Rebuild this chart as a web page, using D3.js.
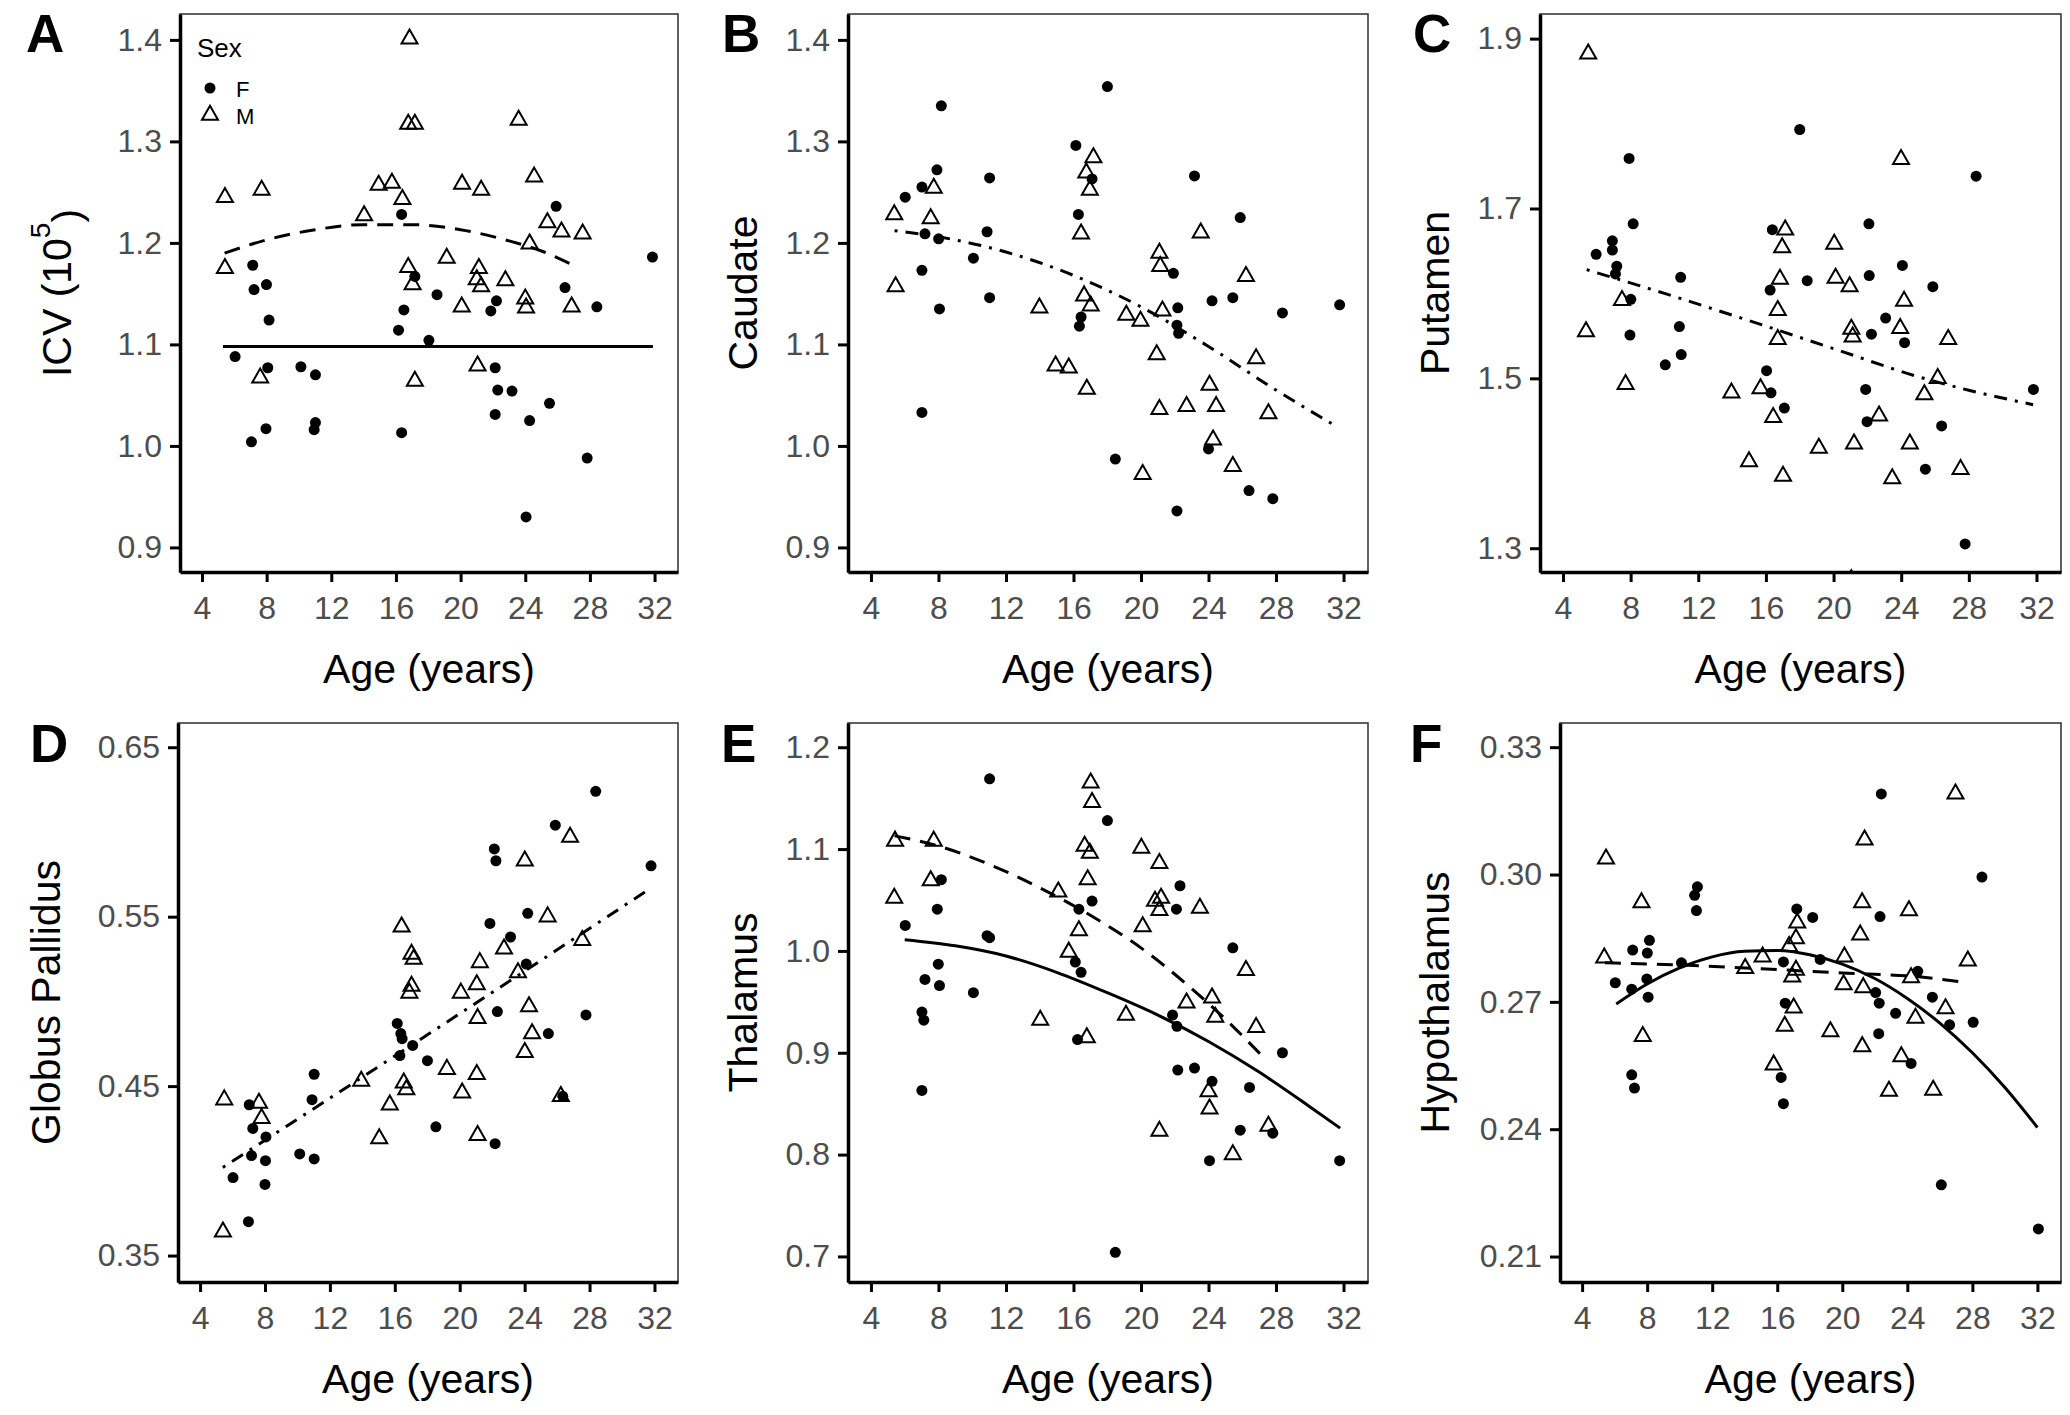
<!doctype html>
<html>
<head>
<meta charset="utf-8">
<script src="https://cdn.jsdelivr.net/npm/d3@7/dist/d3.min.js"></script>
<style>
  body { margin: 0; background: #fff; }
  text { font-family: "Liberation Sans", Arial, sans-serif; }
</style>
</head>
<body>
<div id="chart"></div>
<script>
// x axis shared by all six panels
var ageTicks = [4, 8, 12, 16, 20, 24, 28, 32];

// A: ICV (10^5)
var icvF = [[6.05,1.088],[7.06,1.004],[7.14,1.178],[7.22,1.154],[7.99,1.159],[8.15,1.124],[8.07,1.077],[7.96,1.017],
  [10.12,1.078],[11.02,1.070],[11.02,1.023],[10.94,1.016],[16.35,1.228],[16.49,1.134],[16.16,1.114],[16.35,1.013],
  [17.17,1.167],[18.54,1.149],[18.04,1.104],[21.87,1.133],[22.22,1.143],[22.14,1.077],[22.3,1.055],[23.18,1.054],
  [22.14,1.031],[24.27,1.025],[24.05,0.930],[25.5,1.042],[25.91,1.236],[26.46,1.156],[28.43,1.137],[27.83,0.988],[31.87,1.186]];
var icvM = [[5.42,1.245],[5.42,1.175],[7.69,1.252],[7.6,1.067],[14.03,1.227],[14.93,1.257],[15.75,1.259],[16.4,1.243],
  [16.84,1.401],[16.76,1.317],[17.17,1.317],[16.76,1.176],[17.03,1.159],[17.17,1.064],[19.14,1.185],[20.09,1.258],
  [20.07,1.137],[21.27,1.252],[21.13,1.175],[21.0,1.164],[21.27,1.157],[21.05,1.079],[22.77,1.163],[23.59,1.321],
  [24.55,1.265],[24.27,1.199],[24.0,1.145],[24.05,1.136],[25.37,1.220],[26.24,1.211],[26.87,1.137],[27.55,1.209]];
var icvFitF = [[5.3,1.098],[31.9,1.098]];
var icvFitM = [[5.4,1.190],[8,1.203],[11,1.213],[14,1.218],[17,1.218],[20,1.213],[23,1.202],[25,1.192],[27.1,1.177]];

// B: Caudate
var caudateF = [[6.03,1.245],[7.02,1.255],[7.2,1.209],[7.02,1.173],[7.02,1.033],[7.91,1.272],[8.17,1.335],[8.01,1.204],
  [8.06,1.135],[10.07,1.185],[10.88,1.211],[11.03,1.264],[11.03,1.146],[16.14,1.296],[16.29,1.228],[16.45,1.127],
  [16.35,1.118],[17.1,1.263],[18.01,1.354],[18.48,0.987],[21.92,1.170],[22.18,1.136],[22.13,1.119],[22.23,1.111],
  [22.13,0.936],[23.17,1.266],[24.21,1.143],[24.0,0.997],[25.44,1.146],[25.88,1.225],[26.4,0.956],[27.81,0.948],
  [28.38,1.131],[31.77,1.139]];
var caudateM = [[5.38,1.228],[5.46,1.157],[7.72,1.254],[7.54,1.224],[13.98,1.136],[14.94,1.079],[15.72,1.077],[16.45,1.209],
  [16.63,1.148],[16.76,1.269],[17.18,1.284],[16.97,1.252],[17.02,1.138],[16.79,1.056],[19.13,1.129],[19.97,1.123],
  [20.1,0.972],[21.09,1.190],[21.14,1.177],[21.27,1.133],[20.93,1.090],[21.09,1.036],[22.7,1.039],[23.54,1.210],
  [24.06,1.060],[24.45,1.039],[24.27,1.006],[25.44,0.980],[26.22,1.167],[26.82,1.086],[27.55,1.032]];
var caudateFit = [[5.4,1.212],[8,1.206],[12,1.191],[16,1.168],[20,1.137],[24,1.098],[28,1.055],[31.5,1.020]];

// C: Putamen
var putamenF = [[5.96,1.646],[6.92,1.662],[6.92,1.651],[7.18,1.632],[7.1,1.623],[7.91,1.759],[8.15,1.682],[8.01,1.593],
  [7.96,1.551],[10.05,1.516],[10.96,1.619],[10.88,1.561],[10.99,1.528],[16.38,1.675],[16.25,1.604],[16.04,1.509],
  [16.3,1.483],[17.09,1.465],[18.0,1.793],[18.44,1.615],[22.09,1.682],[22.11,1.621],[22.24,1.552],[21.9,1.487],
  [21.98,1.449],[23.08,1.571],[24.07,1.633],[24.2,1.542],[25.87,1.608],[25.43,1.393],[26.39,1.444],[28.43,1.738],
  [27.78,1.305],[31.82,1.487]];
var putamenM = [[5.49,1.882],[5.36,1.555],[7.49,1.592],[7.7,1.493],[13.96,1.483],[15.0,1.402],[15.68,1.488],[16.43,1.454],
  [17.14,1.675],[16.96,1.654],[16.83,1.617],[16.7,1.580],[16.7,1.546],[17.01,1.385],[19.13,1.418],[20.04,1.658],
  [20.12,1.618],[20.95,1.608],[21.05,1.558],[21.13,1.549],[21.21,1.423],[21.05,1.263],[22.69,1.456],[23.47,1.382],
  [23.99,1.758],[24.17,1.591],[23.94,1.559],[24.51,1.423],[25.37,1.481],[26.16,1.500],[26.78,1.546],[27.51,1.393]];
var putamenFit = [[5.4,1.628],[10,1.600],[15,1.568],[20,1.535],[25,1.502],[28,1.486],[31.8,1.469]];

// D: Globus Pallidus
var pallidusF = [[6.03,0.396],[6.98,0.370],[7.03,0.439],[7.25,0.425],[7.17,0.409],[8.06,0.420],[8.03,0.406],[8.0,0.392],
  [10.14,0.410],[11.03,0.457],[10.9,0.442],[11.03,0.407],[16.15,0.487],[16.37,0.481],[16.45,0.478],[16.31,0.468],
  [17.1,0.474],[18.01,0.465],[18.53,0.426],[22.13,0.590],[22.23,0.583],[21.86,0.546],[23.13,0.538],[22.32,0.494],
  [22.18,0.416],[24.19,0.552],[24.1,0.522],[25.46,0.481],[25.89,0.604],[26.35,0.444],[27.78,0.492],[28.38,0.624],[31.79,0.580]];
var pallidusM = [[5.49,0.442],[5.41,0.364],[7.63,0.440],[7.79,0.431],[13.93,0.453],[15.04,0.419],[15.69,0.439],[16.42,0.544],
  [16.55,0.452],[16.71,0.448],[17.03,0.528],[17.16,0.525],[17.03,0.509],[16.9,0.505],[19.21,0.460],[20.07,0.505],
  [20.15,0.446],[21.05,0.457],[21.24,0.523],[21.05,0.510],[21.1,0.490],[21.1,0.421],[22.73,0.531],[23.59,0.517],
  [24.01,0.583],[24.27,0.497],[24.46,0.481],[24.01,0.470],[25.42,0.550],[26.23,0.444],[26.8,0.597],[27.55,0.536]];
var pallidusFit = [[5.4,0.402],[16.2,0.469],[31.8,0.567]];

// E: Thalamus
var thalamusF = [[6.03,1.025],[7.02,0.863],[7.02,0.940],[7.13,0.932],[7.2,0.972],[8.17,1.070],[7.93,1.041],[7.99,0.987],
  [8.06,0.966],[10.07,0.959],[11.03,1.169],[10.88,1.015],[11.03,1.013],[16.32,1.041],[16.11,0.989],[16.45,0.979],
  [16.24,0.913],[17.1,1.049],[18.01,1.128],[18.48,0.704],[22.31,1.064],[22.1,1.041],[21.87,0.937],[22.13,0.926],
  [22.18,0.883],[23.17,0.885],[24.21,0.872],[24.06,0.794],[25.44,1.003],[26.43,0.866],[25.88,0.824],[27.81,0.821],
  [28.38,0.900],[31.77,0.794]];
var thalamusM = [[5.43,1.108],[5.38,1.052],[7.72,1.108],[7.54,1.069],[14.03,0.932],[15.1,1.058],[15.72,0.999],[16.32,1.020],
  [16.66,1.103],[17.02,1.165],[17.1,1.146],[16.97,1.096],[16.84,1.070],[16.79,0.915],[19.11,0.937],[20.02,1.101],
  [20.1,1.024],[21.09,1.086],[20.83,1.049],[21.19,1.052],[21.09,1.040],[21.09,0.823],[22.7,0.949],[23.49,1.042],
  [24.21,0.954],[24.4,0.935],[24.0,0.862],[24.06,0.845],[25.44,0.800],[26.22,0.981],[26.82,0.925],[27.55,0.828]];
var thalamusFitF = [[6,1.011],[9,1.005],[12,0.995],[15,0.979],[18,0.959],[21,0.937],[24,0.911],[27,0.881],[30,0.847],[31.8,0.826]];
var thalamusFitM = [[5.4,1.113],[8,1.103],[11,1.085],[14,1.062],[17,1.035],[20,1.003],[23,0.963],[25.5,0.925],[27.4,0.893]];

// F: Hypothalamus
var hypoF = [[6.04,0.2745],[7.11,0.2822],[7.05,0.2730],[7.05,0.2528],[7.22,0.2497],[8.01,0.2815],[8.14,0.2845],[7.98,0.2754],
  [8.06,0.2711],[10.11,0.2792],[10.92,0.2951],[11.09,0.2971],[11.03,0.2915],[16.38,0.2794],[16.49,0.2697],[16.24,0.2522],
  [16.38,0.2460],[17.2,0.2919],[18.18,0.2899],[18.64,0.2800],[22.4,0.3190],[22.32,0.2901],[22.05,0.2722],[22.27,0.2697],
  [22.24,0.2625],[23.28,0.2673],[24.23,0.2555],[24.64,0.2772],[25.54,0.2711],[26.09,0.2269],[26.6,0.2646],[28.05,0.2652],
  [28.59,0.2994],[32.06,0.2165]];
var hypoM = [[5.47,0.3037],[5.36,0.2804],[7.65,0.2934],[7.73,0.2619],[14.03,0.2779],[15.1,0.2806],[15.78,0.2552],[16.46,0.2643],
  [16.73,0.2831],[16.92,0.2759],[17.01,0.2686],[17.15,0.2775],[17.15,0.2849],[17.23,0.2886],[19.27,0.2630],[20.13,0.2806],
  [20.08,0.2741],[21.22,0.2934],[21.1,0.2858],[21.37,0.3082],[21.29,0.2734],[21.23,0.2595],[22.87,0.2490],[23.63,0.2571],
  [24.1,0.2915],[24.23,0.2757],[24.5,0.2662],[25.59,0.2492],[26.35,0.2684],[26.96,0.3190],[27.72,0.2797]];
var hypoFitF = [[6.1,0.2695],[8,0.2742],[10,0.2780],[12,0.2806],[14,0.2819],[16,0.2821],[18,0.2811],[20,0.2789],[22,0.2755],
  [24,0.2708],[26,0.2650],[28,0.2580],[30,0.2498],[32,0.2404]];
var hypoFitM = [[5.4,0.2792],[10,0.2787],[15,0.2778],[20,0.2768],[25,0.2758],[27.5,0.2746]];

// layout of the six panels
var DASH = "16,10", DOTDASH = "3,8,13,8";
var panels = [
  {tag:"A", box:[180,678,14,572], lx:26, ly:52, tx:57, title:"ICV", sup:"5",
   yDom:[0.8758,1.4255], yTicks:[0.9,1.0,1.1,1.2,1.3,1.4], fmt:".1f", F:icvF, M:icvM,
   fits:[[icvFitF,null],[icvFitM,DASH]], legend:true},
  {tag:"B", box:[848,1368,14,572], lx:722, ly:52, tx:743, title:"Caudate",
   yDom:[0.8758,1.4255], yTicks:[0.9,1.0,1.1,1.2,1.3,1.4], fmt:".1f", F:caudateF, M:caudateM,
   fits:[[caudateFit,DOTDASH]]},
  {tag:"C", box:[1540,2061,14,572], lx:1413, ly:52, tx:1435, title:"Putamen",
   yDom:[1.272,1.929], yTicks:[1.3,1.5,1.7,1.9], fmt:".1f", F:putamenF, M:putamenM,
   fits:[[putamenFit,DOTDASH]]},
  {tag:"D", box:[178,678,723,1282], lx:30, ly:762, tx:46, title:"Globus Pallidus",
   yDom:[0.3344,0.6643], yTicks:[0.35,0.45,0.55,0.65], fmt:".2f", F:pallidusF, M:pallidusM,
   fits:[[pallidusFit,DOTDASH]]},
  {tag:"E", box:[848,1368,723,1282], lx:721, ly:762, tx:743, title:"Thalamus",
   yDom:[0.6749,1.2238], yTicks:[0.7,0.8,0.9,1.0,1.1,1.2], fmt:".1f", F:thalamusF, M:thalamusM,
   fits:[[thalamusFitF,null],[thalamusFitM,DASH]]},
  {tag:"F", box:[1560,2061,723,1282], lx:1410, ly:762, tx:1435, title:"Hypothalamus",
   yDom:[0.2040,0.3357], yTicks:[0.21,0.24,0.27,0.30,0.33], fmt:".2f", F:hypoF, M:hypoM,
   fits:[[hypoFitF,null],[hypoFitM,DASH]]}
];

var svg = d3.select("#chart").append("svg")
  .attr("width", 2070).attr("height", 1415);

var tri = "M0,-9.3L8,4.7L-8,4.7Z";

panels.forEach(function(p, i) {
  var x = d3.scaleLinear().domain([2.64, 33.45]).range([p.box[0], p.box[1]]);
  var y = d3.scaleLinear().domain(p.yDom).range([p.box[3], p.box[2]]);
  var g = svg.append("g");

  // panel letter
  g.append("text").attr("x", p.lx).attr("y", p.ly)
    .style("font-size", "53px").style("font-weight", "bold").text(p.tag);

  // clip so points sitting below the limits only peek in
  svg.append("clipPath").attr("id", "clip" + i).append("rect")
    .attr("x", p.box[0]).attr("y", p.box[2])
    .attr("width", p.box[1] - p.box[0]).attr("height", p.box[3] - p.box[2]);

  // thin border for top and right
  g.append("rect").attr("x", p.box[0]).attr("y", p.box[2])
    .attr("width", p.box[1] - p.box[0]).attr("height", p.box[3] - p.box[2])
    .attr("fill", "none").attr("stroke", "#3a3a3a").attr("stroke-width", 1.6);

  var plot = g.append("g").attr("clip-path", "url(#clip" + i + ")");

  // fitted lines
  var line = d3.line().x(function(d) { return x(d[0]); }).y(function(d) { return y(d[1]); })
    .curve(d3.curveMonotoneX);
  p.fits.forEach(function(f) {
    plot.append("path").datum(f[0]).attr("d", line)
      .attr("fill", "none").attr("stroke", "#000").attr("stroke-width", 3)
      .attr("stroke-dasharray", f[1]);
  });

  // points
  plot.selectAll(".f").data(p.F).enter().append("circle")
    .attr("cx", function(d) { return x(d[0]); }).attr("cy", function(d) { return y(d[1]); })
    .attr("r", 5.5).attr("fill", "#000");
  plot.selectAll(".m").data(p.M).enter().append("path")
    .attr("d", tri)
    .attr("transform", function(d) { return "translate(" + x(d[0]) + "," + y(d[1]) + ")"; })
    .attr("fill", "none").attr("stroke", "#000").attr("stroke-width", 2);

  // axes
  var xAxis = g.append("g").attr("transform", "translate(0," + p.box[3] + ")")
    .call(d3.axisBottom(x).tickValues(ageTicks).tickSize(10).tickPadding(8).tickSizeOuter(0));
  var yAxis = g.append("g").attr("transform", "translate(" + p.box[0] + ",0)")
    .call(d3.axisLeft(y).tickValues(p.yTicks).tickFormat(d3.format(p.fmt)).tickSize(10).tickPadding(8).tickSizeOuter(0));
  [xAxis, yAxis].forEach(function(a) {
    a.select(".domain").attr("stroke", "#000").attr("stroke-width", 3.5);
    a.selectAll(".tick line").attr("stroke", "#000").attr("stroke-width", 3);
    a.selectAll(".tick text").attr("fill", "#4d4d4d").style("font-size", "32px")
      .style("font-family", "'Liberation Sans', Arial, sans-serif");
  });
  xAxis.selectAll(".tick text").attr("dy", "0.9em");

  // axis titles
  g.append("text").attr("x", (p.box[0] + p.box[1]) / 2).attr("y", p.box[3] + 111)
    .attr("text-anchor", "middle").style("font-size", "41px").text("Age (years)");
  var yt = g.append("text").attr("text-anchor", "middle").attr("dy", "0.35em")
    .attr("transform", "translate(" + p.tx + "," + (p.box[2] + p.box[3]) / 2 + ") rotate(-90)")
    .style("font-size", "41px");
  if (p.sup) {
    yt.append("tspan").text(p.title + " (10");
    yt.append("tspan").attr("dy", "-0.75em").style("font-size", "28px").text(p.sup);
    yt.append("tspan").attr("dy", "0.75em").text(")");
  } else {
    yt.text(p.title);
  }

  // legend
  if (p.legend) {
    var lg = g.append("g");
    lg.append("text").attr("x", 197).attr("y", 57).style("font-size", "26px").text("Sex");
    lg.append("circle").attr("cx", 210).attr("cy", 88).attr("r", 5.5).attr("fill", "#000");
    lg.append("path").attr("d", tri).attr("transform", "translate(210,115)")
      .attr("fill", "none").attr("stroke", "#000").attr("stroke-width", 2);
    lg.append("text").attr("x", 236).attr("y", 97).style("font-size", "22px").text("F");
    lg.append("text").attr("x", 236).attr("y", 124).style("font-size", "22px").text("M");
  }
});
</script>
</body>
</html>
